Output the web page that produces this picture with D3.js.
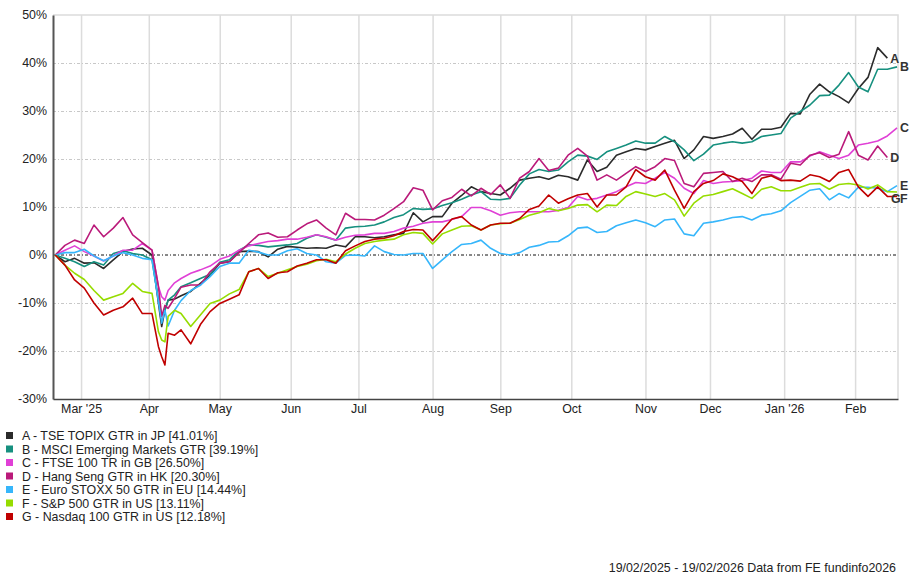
<!DOCTYPE html>
<html>
<head>
<meta charset="utf-8">
<script src="https://cdn.jsdelivr.net/npm/d3@7"></script>
<style>
    body { margin: 0; background: #fff; }
    .chart text { font-family: "Liberation Sans", Arial, sans-serif; }
</style>
</head>
<body>
<div class="chart"></div>
<script>
//Weekday number counted from 19/02/2025 for every sampled point
const days = [0,3,6,9,12,15,18,21,24,27,30,32,33,34,35,37,39,42,45,48,51,54,57,60,63,66,69,72,75,
    78,81,84,87,90,93,96,99,102,105,108,111,114,117,120,123,126,129,132,135,138,141,144,147,150,
    153,156,159,162,165,168,171,174,177,180,183,186,189,192,195,198,201,204,207,210,213,216,219,
    222,225,228,231,234,237,240,243,246,249,252,255,258,261];

//Cumulative return (%) of each index
const topix = [0,-1.4,-0.7,-1.7,-1.6,-2.8,-1.0,0.7,1.25,1.4,0,-10.1,-14.9,-11.5,-9.4,-9.2,-8.5,-7.6,-5.9,-4.2,-1.7,-1.4,0.7,0.8,0.7,-0.4,1.2,1.8,1.6,
    1.4,1.5,1.4,2.1,1.7,3.8,3.8,3.6,3.8,4.2,4.5,8.8,6.9,8.0,8.0,10.8,12.4,14.2,13.2,12.8,12.5,13.9,15.6,16.0,16.3,
    15.8,16.6,16.3,15.6,19.8,17.4,18.3,20.8,21.5,22.2,21.9,22.6,23.3,23.9,20.1,21.9,24.7,24.3,24.7,25.2,26.4,24.1,26.2,
    26.2,26.6,29.5,29.4,33.5,35.6,34.0,33.0,31.7,34.7,37.0,43.2,41.01,null];
const msciEm = [0,-0.7,-1.4,-2.4,-1.4,-2.1,0.3,0.9,0.3,0,-1.0,-9.4,-12.5,-11.5,-9.4,-8.3,-6.6,-5.8,-4.9,-4.0,-1.5,-1.0,1.0,2.1,2.0,1.7,1.9,2.1,2.4,
    3.5,4.2,3.7,3.1,5.6,5.9,6.0,6.25,6.9,7.8,8.4,9.7,9.5,9.6,10.3,10.9,11.6,12.5,13.2,11.6,11.5,11.8,14.6,16.9,17.8,
    17.4,17.7,19.4,20.8,20.6,19.9,21.5,22.2,22.9,23.75,23.3,23.3,24.7,23.6,21.9,19.65,21.0,22.9,23.3,23.6,23.3,23.6,24.7,
    25.0,25.3,28.5,29.9,31.25,33.2,33.3,35.4,38.0,35.0,34.0,38.7,38.7,39.19];
const ftse = [0,1.0,1.9,0.7,-0.2,-1.25,-0.2,1.0,1.0,2.4,1.0,-6.6,-8.7,-9.4,-7.4,-5.8,-4.9,-3.8,-3.1,-2.3,-0.9,-0.2,1.0,1.9,2.4,2.8,3.0,3.3,3.3,
    3.7,4.2,3.8,3.1,3.7,4.1,4.2,4.5,4.5,4.9,5.6,6.0,6.6,6.9,6.9,7.4,8.0,9.9,9.9,9.2,8.3,8.8,9.0,9.0,9.0,
    9.0,9.3,9.9,12.2,11.5,11.8,12.5,13.2,14.2,15.1,14.9,16.0,17.2,16.0,13.9,12.8,15.5,14.9,15.2,15.3,15.5,16.0,17.5,
    17.2,17.2,19.4,19.4,20.6,21.5,20.8,20.1,20.8,22.9,23.3,23.75,24.8,26.5];
const hangSeng = [0,2.0,3.1,2.4,6.25,3.8,5.6,7.8,4.2,2.6,1.0,-6.6,-12.8,-10.5,-11.1,-9.0,-6.7,-6.25,-6.25,-3.5,-1.7,-1.4,0.5,2.4,4.2,4.6,3.7,3.8,5.2,
    6.5,7.3,5.6,4.2,8.7,7.4,7.4,7.3,8.3,9.65,11.1,14.0,13.5,9.4,11.3,12.0,13.7,12.3,13.9,12.6,14.6,11.8,16.0,17.4,20.1,
    17.6,18.1,20.8,22.2,20.6,15.6,16.7,15.6,17.0,18.4,17.4,18.4,20.1,19.7,14.9,14.2,17.0,17.2,17.4,15.3,16.0,15.3,16.7,
    16.7,15.8,19.1,18.75,20.8,21.3,20.3,21.0,25.7,20.8,19.8,22.7,20.3,null];
const stoxx = [0,0.5,0.5,1.2,-0.2,-1.2,-0.2,0.5,0,-0.7,-1.0,-9.7,-14.2,-11.5,-14.8,-11.5,-9.5,-7.4,-6.3,-4.5,-2.4,-1.7,-1.7,1.0,0.6,0,0,0.9,1.3,
    0.3,0,-1.4,-1.7,-0.1,0,-0.2,1.9,0.7,0.1,0,0.3,0.3,-2.8,-1.0,0.7,2.2,2.4,3.1,1.4,0.3,0,0.5,1.6,2.0,
    2.7,2.8,4.0,5.6,5.8,4.7,4.9,6.1,6.7,7.3,6.7,5.9,7.3,7.5,4.4,4.0,6.6,6.9,7.3,7.8,8.0,7.3,8.3,
    8.6,9.2,10.9,12.2,13.5,13.8,11.5,12.8,11.9,14.1,14.1,13.9,13.2,14.44];
const sp500 = [0,-2.1,-3.8,-5.1,-7.4,-9.4,-8.7,-8.0,-5.9,-7.6,-8.0,-16.0,-17.7,-18.1,-12.8,-11.5,-12.2,-14.9,-12.5,-10.1,-9.4,-8.1,-7.2,-3.5,-2.8,-4.5,-3.8,-3.1,-2.4,
    -1.9,-1.2,-0.9,-1.4,0.2,1.4,2.4,2.8,3.1,3.3,4.2,4.7,4.5,2.3,4.4,5.2,6.0,6.1,5.2,6.25,6.5,6.6,7.4,8.3,8.8,
    9.7,9.2,9.7,10.4,10.5,9.0,10.4,10.3,12.2,13.2,12.7,12.2,12.8,11.5,8.1,10.8,12.3,12.6,13.2,13.8,12.8,11.8,13.7,
    14.2,13.4,13.4,14.1,14.8,14.9,13.7,14.7,14.9,14.6,13.75,14.6,13.2,13.11];
const nasdaq = [0,-2.1,-5.2,-6.9,-10.0,-12.5,-11.5,-10.8,-9.0,-12.2,-12.2,-19.1,-21.2,-22.9,-16.3,-16.7,-15.6,-18.5,-14.5,-11.8,-10.1,-9.2,-8.3,-3.5,-2.8,-4.9,-3.7,-3.5,-2.3,
    -1.7,-1.0,-1.0,-1.7,0.9,1.9,2.8,3.3,3.5,4.0,4.9,5.3,5.2,3.0,5.2,7.5,8.0,6.25,5.2,6.25,6.6,6.6,7.6,9.5,10.2,
    12.5,10.8,11.7,12.5,12.8,10.0,12.5,12.5,14.2,17.8,16.3,15.6,17.7,13.5,9.7,13.2,14.9,15.5,16.9,16.3,15.3,12.8,16.0,
    16.5,15.5,15.6,15.4,16.7,16.3,15.3,17.2,17.8,14.2,12.2,14.2,12.2,12.18];

//Series names, letters and colours
const names = ["TSE TOPIX GTR in JP", "MSCI Emerging Markets GTR", "FTSE 100 TR in GB", "Hang Seng GTR in HK",
    "Euro STOXX 50 GTR in EU", "S&P 500 GTR in US", "Nasdaq 100 GTR in US"];
const letters = ["A", "B", "C", "D", "E", "F", "G"];
const finals = ["41.01%", "39.19%", "26.50%", "20.30%", "14.44%", "13.11%", "12.18%"];
const colors = ["#2b2b2b", "#16907f", "#e040d6", "#ba1a7a", "#36b6fb", "#96dc00", "#c00000"];
const values = [topix, msciEm, ftse, hangSeng, stoxx, sp500, nasdaq];

//Month ticks (weekday number of the first trading day of each month)
const monthDays = [8, 29, 51, 73, 94, 117, 138, 160, 183, 203, 226, 248];
const monthLabels = ["Mar '25", "Apr", "May", "Jun", "Jul", "Aug", "Sep", "Oct", "Nov", "Dec", "Jan '26", "Feb"];
const yTicks = [-30, -20, -10, 0, 10, 20, 30, 40, 50];

let WIDTH = 910,
    HEIGHT = 577,
    LEFT = 53,
    RIGHT = 898,
    TOP = 15,
    BOTTOM = 399,
    FONT = "12.4px";

//Nudges for the end letters so F and G do not sit on E
let labelDx = [0, 0, 0, 0, 0, 0, -9],
    labelDy = [0, 0, 0, 0, 0, 6, 2];

let svg = d3
    .select(".chart")
    .append("svg")
    .attr("width", WIDTH)
    .attr("height", HEIGHT);

let xScale = d3.scaleLinear().domain([-0.7, 261.3]).range([LEFT, RIGHT]);
let yScale = d3.scaleLinear().domain([-30, 50]).range([BOTTOM, TOP]);

//Vertical month grid lines
svg.append("g")
    .attr("transform", `translate(0, ${TOP})`)
    .call(d3.axisBottom(xScale).tickValues(monthDays).tickSize(BOTTOM - TOP).tickFormat(""))
    .call(g => g.select(".domain").remove())
    .call(g => g.selectAll("line").attr("stroke", "#dcdcdc").attr("stroke-width", 1.5));

//Horizontal grid lines
svg.append("g")
    .attr("transform", `translate(${LEFT}, 0)`)
    .call(d3.axisRight(yScale).tickValues(yTicks.filter(d => d != 0 && d != 50 && d != -30)).tickSize(RIGHT - LEFT).tickFormat(""))
    .call(g => g.select(".domain").remove())
    .call(g => g.selectAll("line").attr("stroke", "#c8c8c8").attr("stroke-dasharray", "3,2,1,2"));

//Top and right border
svg.append("path")
    .attr("d", `M${LEFT},${yScale(50)}H${RIGHT}V${BOTTOM}`)
    .attr("fill", "none")
    .attr("stroke", "#dcdcdc")
    .attr("stroke-width", 1.5);

//Zero line
svg.append("line")
    .attr("x1", LEFT).attr("x2", RIGHT)
    .attr("y1", yScale(0)).attr("y2", yScale(0))
    .attr("stroke", "#111")
    .attr("stroke-dasharray", "3,2,1,2");

//Lines
let line = d3.line()
    .defined(d => d[1] != null)
    .x(d => xScale(d[0]))
    .y(d => yScale(d[1]));

values.forEach((series, k) => {
    let points = days.map((day, i) => [day, series[i]]);
    svg.append("path")
        .datum(points)
        .attr("fill", "none")
        .attr("stroke", colors[k])
        .attr("stroke-width", 1.6)
        .attr("stroke-linejoin", "round")
        .attr("d", line);
});

//Letters at the end of each line
values.forEach((series, k) => {
    let last = series.length - 1;
    while (series[last] == null) last--;
    svg.append("text")
        .attr("x", xScale(days[last]) + 3 + labelDx[k])
        .attr("y", yScale(series[last]) + 4.5 + labelDy[k])
        .attr("font-size", FONT)
        .attr("font-weight", "bold")
        .style("fill", "#333")
        .text(letters[k]);
});

//Axes
svg.append("g")
    .attr("transform", `translate(${LEFT}, 0)`)
    .call(d3.axisLeft(yScale).tickValues(yTicks).tickSize(0).tickPadding(6).tickFormat(d => d + "%"))
    .call(g => g.select(".domain").attr("stroke", "#555").attr("stroke-width", 2))
    .call(g => g.selectAll("text").attr("font-size", FONT).style("fill", "#222"));

svg.append("g")
    .attr("transform", `translate(0, ${BOTTOM})`)
    .call(d3.axisBottom(xScale).tickValues(monthDays).tickSize(0).tickPadding(5).tickFormat((d, i) => monthLabels[i]))
    .call(g => g.select(".domain").attr("stroke", "#444").attr("stroke-width", 1.5))
    .call(g => g.selectAll("text").attr("font-size", FONT).style("fill", "#222"));

//Legend
let legend = svg.append("g").attr("transform", "translate(6, 432)");
names.forEach((name, k) => {
    legend.append("rect")
        .attr("x", 0)
        .attr("y", k * 13.5)
        .attr("width", 7)
        .attr("height", 7)
        .style("fill", colors[k]);
    legend.append("text")
        .attr("x", 16)
        .attr("y", k * 13.5 + 8)
        .attr("font-size", FONT)
        .style("fill", "#222")
        .text(`${letters[k]} - ${name} [${finals[k]}]`);
});

//Footer
svg.append("text")
    .attr("x", 896)
    .attr("y", 572)
    .attr("text-anchor", "end")
    .attr("font-size", FONT)
    .style("fill", "#222")
    .text("19/02/2025 - 19/02/2026 Data from FE fundinfo2026");
</script>
</body>
</html>
